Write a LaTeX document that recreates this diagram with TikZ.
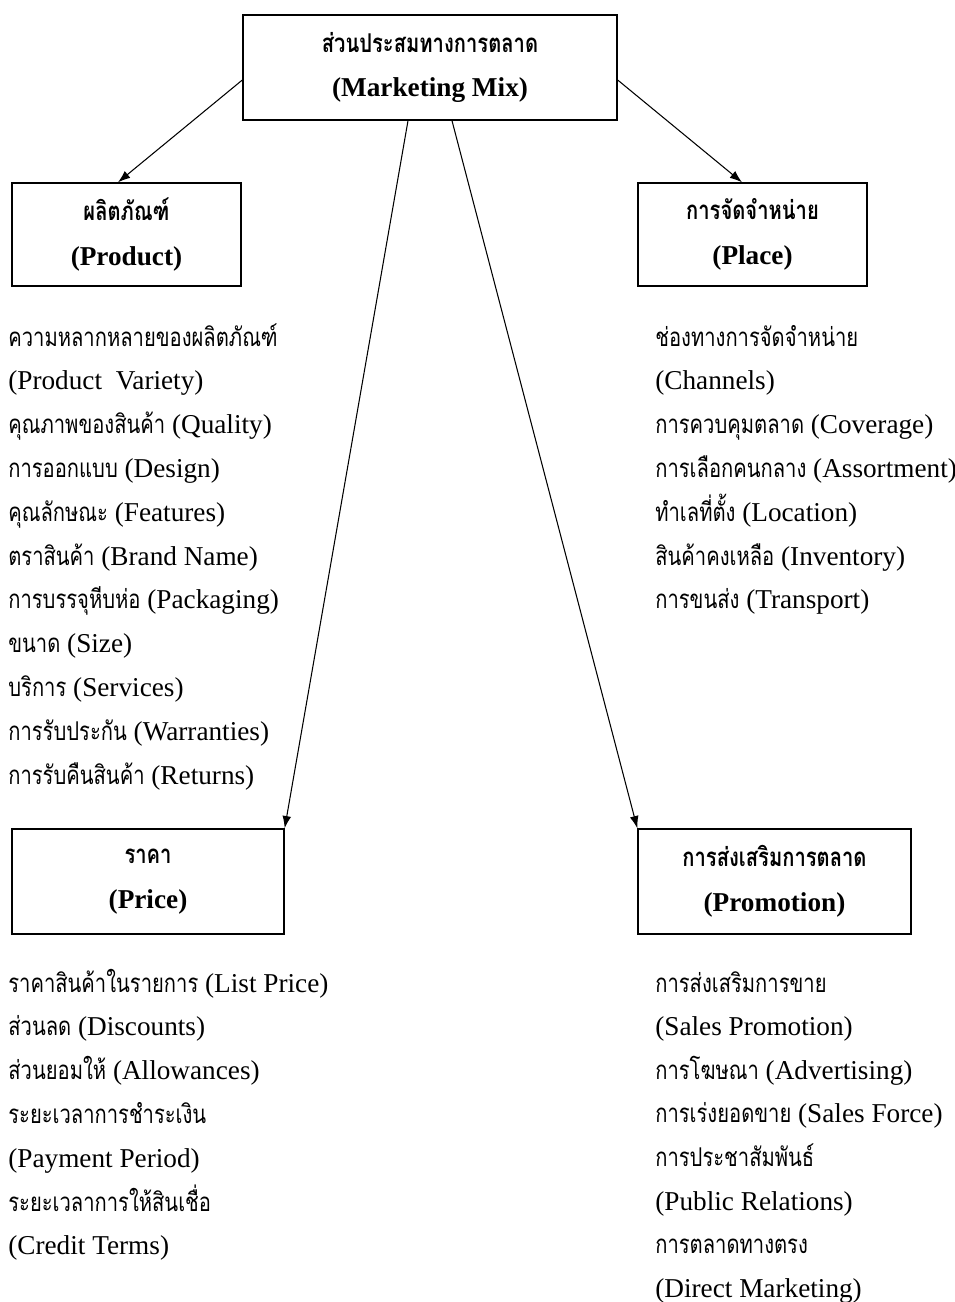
\documentclass[tikz,border=0pt]{standalone}
\usepackage{fontspec}
\setmainfont{Liberation Serif}
\newfontfamily\thaifont[Script=Thai, Scale=0.95, FakeStretch=0.78]{Loma}
\newcommand\tha[1]{{\thaifont #1}}
\usetikzlibrary{arrows.meta}

\begin{document}
\begin{tikzpicture}[x=0.02cm, y=-0.02cm,
    box/.style={draw, line width=0.8pt, align=center, inner sep=0pt,
        font=\bfseries\fontsize{15.5}{25.5}\selectfont},
    item/.style={anchor=base west, inner sep=0pt,
        font=\fontsize{15.5}{19}\selectfont},
    link/.style={line width=0.6pt, -{Latex[length=7pt,width=5pt]}}]
    \useasboundingbox (0,0) rectangle (955,1302);

    \node[box, minimum width=7.48cm, minimum height=2.1cm] (mix) at (430,67.5)
        {\tha{ส่วนประสมทางการตลาด}\\(Marketing Mix)};
    \node[box, minimum width=4.58cm, minimum height=2.06cm] (prod) at (126.5,234.5)
        {\tha{ผลิตภัณฑ์}\\(Product)};
    \node[box, minimum width=4.58cm, minimum height=2.06cm] (place) at (752.5,234.5)
        {\tha{การจัดจำหน่าย}\\(Place)};
    \node[box, minimum width=5.44cm, minimum height=2.1cm] (price) at (148,881.5)
        {\tha{ราคา}\\(Price)};
    \node[box, minimum width=5.46cm, minimum height=2.1cm] (promo) at (774.5,881.5)
        {\tha{การส่งเสริมการตลาด}\\(Promotion)};

    \draw[link] ([yshift=-0.25cm]mix.west) -- ([xshift=-0.17cm]prod.north);
    \draw[link] ([yshift=-0.25cm]mix.east) -- ([xshift=-0.21cm]place.north);
    \draw[link] ([xshift=-0.44cm]mix.south) -- (price.north east);
    \draw[link] ([xshift=0.44cm]mix.south) -- (promo.north west);

    % รายการย่อยของแต่ละส่วน
    \foreach \txt [count=\i] in {\tha{ความหลากหลายของผลิตภัณฑ์}, (Product~ Variety),
        \tha{คุณภาพของสินค้า} (Quality), \tha{การออกแบบ} (Design),
        \tha{คุณลักษณะ} (Features), \tha{ตราสินค้า} (Brand Name),
        \tha{การบรรจุหีบห่อ} (Packaging), \tha{ขนาด} (Size),
        \tha{บริการ} (Services), \tha{การรับประกัน} (Warranties),
        \tha{การรับคืนสินค้า} (Returns)}
        \node[item] (prod-\i) at (8,{346+43.8*(\i-1)}) {\txt};

    \foreach \txt [count=\i] in {\tha{ช่องทางการจัดจำหน่าย}, (Channels),
        \tha{การควบคุมตลาด} (Coverage), \tha{การเลือกคนกลาง} (Assortment),
        \tha{ทำเลที่ตั้ง} (Location), \tha{สินค้าคงเหลือ} (Inventory),
        \tha{การขนส่ง} (Transport)}
        \node[item] (place-\i) at (655,{346+43.8*(\i-1)}) {\txt};

    \foreach \txt [count=\i] in {\tha{ราคาสินค้าในรายการ} (List Price),
        \tha{ส่วนลด} (Discounts), \tha{ส่วนยอมให้} (Allowances),
        \tha{ระยะเวลาการชำระเงิน}, (Payment Period),
        \tha{ระยะเวลาการให้สินเชื่อ}, (Credit Terms)}
        \node[item] (price-\i) at (8,{992+43.8*(\i-1)}) {\txt};

    \foreach \txt [count=\i] in {\tha{การส่งเสริมการขาย}, (Sales Promotion),
        \tha{การโฆษณา} (Advertising), \tha{การเร่งยอดขาย} (Sales Force),
        \tha{การประชาสัมพันธ์}, (Public Relations),
        \tha{การตลาดทางตรง}, (Direct Marketing)}
        \node[item] (promo-\i) at (655,{992+43.6*(\i-1)}) {\txt};
\end{tikzpicture}
\end{document}
